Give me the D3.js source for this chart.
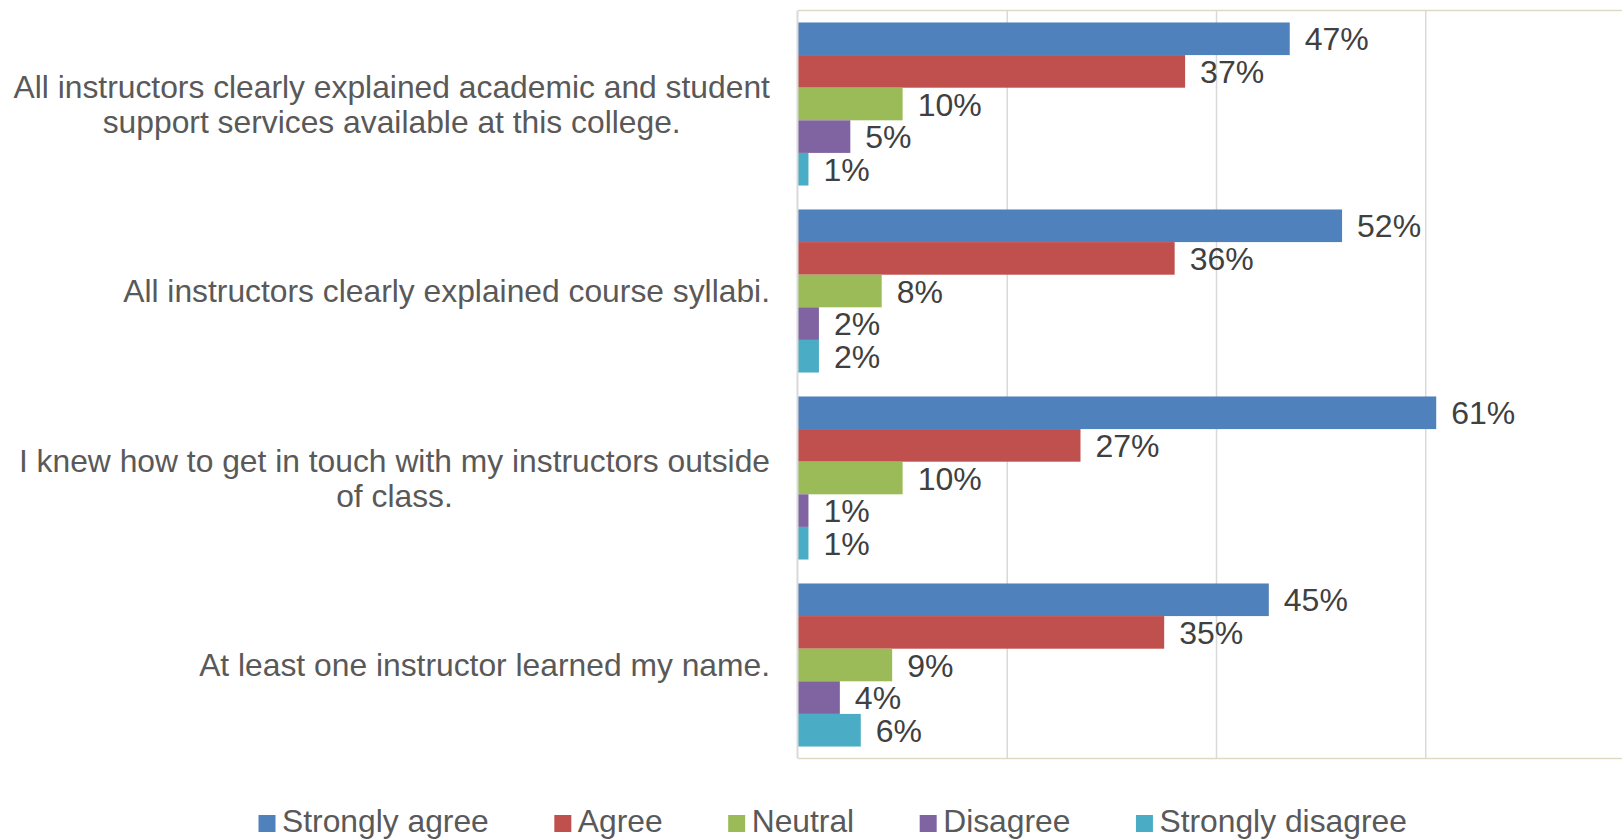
<!DOCTYPE html>
<html>
<head>
<meta charset="utf-8">
<script src="https://cdn.jsdelivr.net/npm/d3@7"></script>
<style>
  body { margin: 0; background: #fff; }
  svg text { font-family: "Liberation Sans", Arial, sans-serif; }
</style>
</head>
<body>
<svg id="chart" width="1622" height="839"></svg>
<script>
// questions, top to bottom (line breaks as in the picture)
var questions = [
  ["All instructors clearly explained academic and student", "support services available at this college."],
  ["All instructors clearly explained course syllabi."],
  ["I knew how to get in touch with my instructors outside", "of class."],
  ["At least one instructor learned my name."]
];
var series = ["Strongly agree", "Agree", "Neutral", "Disagree", "Strongly disagree"];
var colors = ["#4F81BD", "#C0504D", "#9BBB59", "#8064A2", "#4BACC6"];

// percent per question, in series order
var stronglyAgree    = [47, 52, 61, 45];
var agree            = [37, 36, 27, 35];
var neutral          = [10, 8, 10, 9];
var disagree         = [5, 2, 1, 4];
var stronglyDisagree = [1, 2, 1, 6];
var values = [stronglyAgree, agree, neutral, disagree, stronglyDisagree];

var gridTicks = [20, 40, 60];

var svg = d3.select("#chart");

var plotLeft = 798, plotRight = 1635, plotTop = 10.5, plotBottom = 758.5;

var x = d3.scaleLinear().domain([0, 80]).range([plotLeft, plotRight]);

var y = d3.scaleBand()
    .domain(d3.range(questions.length))
    .range([plotTop, plotBottom])
    .paddingInner(0.128)
    .paddingOuter(0.064);

var ySub = d3.scaleBand()
    .domain(d3.range(series.length))
    .range([0, y.bandwidth()]);

// gridlines
svg.append("g").selectAll("line")
    .data(gridTicks).enter()
    .append("line")
    .attr("x1", function(d) { return x(d); })
    .attr("x2", function(d) { return x(d); })
    .attr("y1", plotTop)
    .attr("y2", plotBottom)
    .attr("stroke", "#d9d9d9")
    .attr("stroke-width", 1.5);

// plot border (top / bottom beige)
svg.append("line")
    .attr("x1", plotLeft).attr("x2", 1622)
    .attr("y1", plotTop).attr("y2", plotTop)
    .attr("stroke", "#ddd9c3").attr("stroke-width", 1.5);
svg.append("line")
    .attr("x1", plotLeft).attr("x2", 1622)
    .attr("y1", plotBottom).attr("y2", plotBottom)
    .attr("stroke", "#ddd9c3").attr("stroke-width", 1.5);

// bars
var groups = svg.append("g").selectAll("g")
    .data(questions).enter()
    .append("g")
    .attr("transform", function(d, i) { return "translate(0," + y(i) + ")"; });

groups.each(function(q, qi) {
  var g = d3.select(this);
  series.forEach(function(s, si) {
    var v = values[si][qi];
    g.append("rect")
      .attr("x", x(0))
      .attr("y", ySub(si))
      .attr("width", x(v) - x(0))
      .attr("height", ySub.bandwidth())
      .attr("fill", colors[si]);
    g.append("text")
      .attr("x", x(v) + 15)
      .attr("y", ySub(si) + ySub.bandwidth() / 2)
      .attr("dy", "0.36em")
      .attr("font-size", 32)
      .attr("fill", "#404040")
      .text(v + "%");
  });
});

// vertical axis line
svg.append("line")
    .attr("x1", plotLeft - 0.5).attr("x2", plotLeft - 0.5)
    .attr("y1", plotTop).attr("y2", plotBottom)
    .attr("stroke", "#d9d9d9").attr("stroke-width", 2);

// question labels
var lineH = 35;
svg.append("g").selectAll("text")
    .data(questions).enter()
    .append("text")
    .attr("text-anchor", "middle")
    .attr("font-size", 31.8)
    .attr("fill", "#595959")
    .each(function(lines, i) {
      var t = d3.select(this);
      var cy = y(i) + y.bandwidth() / 2;
      var y0 = cy - (lines.length - 1) * lineH / 2;
      lines.forEach(function(l, li) {
        t.append("tspan")
          .attr("x", 0)
          .attr("y", y0 + li * lineH)
          .attr("dy", "0.36em")
          .text(l);
      });
      // right-align block, centre lines within it
      var w = this.getBBox().width;
      t.attr("transform", "translate(" + (770 - w / 2) + ",0)");
    });

// legend
var legend = svg.append("g");
var lx = 258.5;
series.forEach(function(s, i) {
  legend.append("rect")
    .attr("x", lx).attr("y", 815)
    .attr("width", 17).attr("height", 17)
    .attr("fill", colors[i]);
  var t = legend.append("text")
    .attr("x", lx + 23.5)
    .attr("y", 832)
    .attr("font-size", 31.8)
    .attr("fill", "#595959")
    .text(s);
  lx += 23.5 + t.node().getComputedTextLength() + 65.5;
});
</script>
</body>
</html>
